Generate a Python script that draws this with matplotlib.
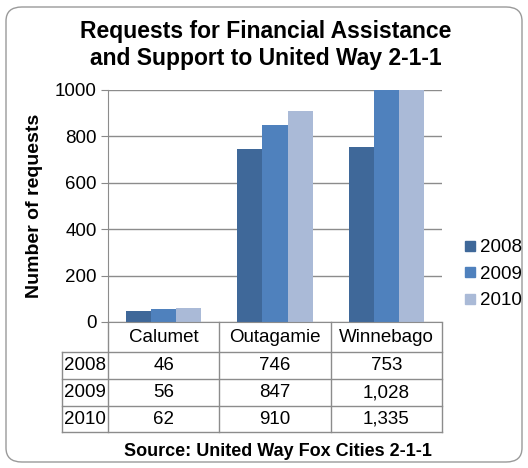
import matplotlib.pyplot as plt
from matplotlib.patches import FancyBboxPatch
from matplotlib.lines import Line2D
import numpy as np

categories = ["Calumet", "Outagamie", "Winnebago"]
years = ["2008", "2009", "2010"]
v2008 = [46, 746, 753]
v2009 = [56, 847, 1028]
v2010 = [62, 910, 1335]
series = [v2008, v2009, v2010]
colors = ["#3F6899", "#4F81BD", "#AABAD7"]

W, H = 528, 468
plt.rcParams['font.family'] = ['Liberation Sans', 'DejaVu Sans']
fig = plt.figure(figsize=(W / 100, H / 100), dpi=100)

# rounded frame around whole chart
frame = FancyBboxPatch((6 / W, 6 / H), 516 / W, 455 / H,
                       boxstyle="round,pad=0,rounding_size=0.03",
                       transform=fig.transFigure, fc="none", ec="#9A9A9A", lw=1, zorder=-1)
fig.patches.append(frame)

fs = 13.5
# axes box in pixels
left, right, top, bottom = 108, 442, 90, 322
ax = fig.add_axes([left / W, 1 - bottom / H, (right - left) / W, (bottom - top) / H])
ax.set_facecolor("none")

x = np.arange(len(categories))
bw = 0.225
for i, vals in enumerate(series):
    ax.bar(x + (i - 1) * bw, vals, bw, color=colors[i], zorder=2, label=years[i])

ax.set_xlim(-0.5, 2.5)
ax.set_ylim(0, 1000)
ax.set_yticks(range(0, 1001, 200))
ax.tick_params(axis='y', labelsize=fs, length=5, color="#888888", pad=3)
ax.set_xticks([])
ax.grid(axis='y', color="#8C8C8C", lw=1, zorder=1)
for s in ["top", "right"]:
    ax.spines[s].set_visible(False)
ax.spines["left"].set_color("#8C8C8C")
ax.spines["bottom"].set_color("#8C8C8C")

ax.set_ylabel("Number of requests", fontsize=14, fontweight="bold", labelpad=9)

# data table under the axes
ah = bottom - top
rows_px = [0, 30, 57, 84, 110]
rows = [-r / ah for r in rows_px]
tr = ax.get_xaxis_transform()
lab_left = -0.5 - (left - 62) / ((right - left) / 3)
gcol = "#8C8C8C"
for r in rows[1:]:
    ax.plot([lab_left, 2.5], [r, r], color=gcol, lw=1, transform=tr, clip_on=False)
for xv in [-0.5, 0.5, 1.5, 2.5]:
    ax.plot([xv, xv], [0, rows[-1]], color=gcol, lw=1, transform=tr, clip_on=False)
ax.plot([lab_left, lab_left], [rows[1], rows[-1]], color=gcol, lw=1, transform=tr, clip_on=False)

for j, c in enumerate(categories):
    ax.text(j, (rows[0] + rows[1]) / 2, c, transform=tr, ha="center", va="center", fontsize=fs)
for i, vals in enumerate(series):
    ymid = (rows[i + 1] + rows[i + 2]) / 2
    ax.text((lab_left - 0.5) / 2, ymid, years[i], transform=tr, ha="center", va="center", fontsize=fs)
    for j, v in enumerate(vals):
        ax.text(j, ymid, f"{v:,}", transform=tr, ha="center", va="center", fontsize=fs)

# legend
handles = [Line2D([], [], marker="s", ls="", ms=7.5, color=c) for c in colors]
fig.legend(handles, years, loc="center left", bbox_to_anchor=(462 / W, 1 - 274 / H),
           frameon=False, fontsize=fs, handletextpad=0.15, labelspacing=0.5,
           handlelength=0.8, borderaxespad=0, borderpad=0)

fig.text(266 / W, 1 - 45 / H, "Requests for Financial Assistance\nand Support to United Way 2-1-1",
         ha="center", va="center", fontsize=16.5, fontweight="bold", linespacing=1.2)
fig.text(278 / W, 1 - 451 / H, "Source: United Way Fox Cities 2-1-1",
         ha="center", va="center", fontsize=13, fontweight="bold")

fig.savefig("out.png", dpi=100)
